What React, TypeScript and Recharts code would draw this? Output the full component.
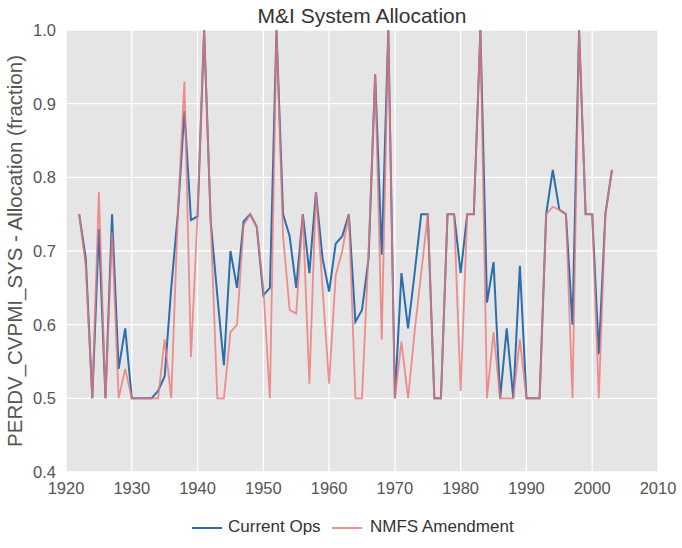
import React from 'react';
import { LineChart, Line, XAxis, YAxis, CartesianGrid, Label } from 'recharts';

const years = [
  1922, 1923, 1924, 1925, 1926, 1927, 1928, 1929, 1930, 1931,
  1932, 1933, 1934, 1935, 1936, 1937, 1938, 1939, 1940, 1941,
  1942, 1943, 1944, 1945, 1946, 1947, 1948, 1949, 1950, 1951,
  1952, 1953, 1954, 1955, 1956, 1957, 1958, 1959, 1960, 1961,
  1962, 1963, 1964, 1965, 1966, 1967, 1968, 1969, 1970, 1971,
  1972, 1973, 1974, 1975, 1976, 1977, 1978, 1979, 1980, 1981,
  1982, 1983, 1984, 1985, 1986, 1987, 1988, 1989, 1990, 1991,
  1992, 1993, 1994, 1995, 1996, 1997, 1998, 1999, 2000, 2001,
  2002, 2003,
];

const currentOps = [
  0.75, 0.69, 0.5, 0.73, 0.5, 0.75, 0.54, 0.595, 0.5, 0.5,
  0.5, 0.5, 0.51, 0.53, 0.65, 0.75, 0.89, 0.742, 0.747, 1.0,
  0.74, 0.64, 0.545, 0.7, 0.65, 0.74, 0.75, 0.733, 0.64, 0.65,
  1.0, 0.75, 0.72, 0.65, 0.75, 0.67, 0.78, 0.69, 0.645, 0.71,
  0.72, 0.75, 0.604, 0.62, 0.69, 0.94, 0.695, 1.0, 0.5, 0.67,
  0.595, 0.67, 0.75, 0.75, 0.5, 0.5, 0.75, 0.75, 0.67, 0.75,
  0.75, 1.0, 0.63, 0.685, 0.5, 0.595, 0.5, 0.68, 0.5, 0.5,
  0.5, 0.75, 0.81, 0.756, 0.75, 0.6, 1.0, 0.75, 0.75, 0.56,
  0.75, 0.81,
];

const nmfsAmendment = [
  0.75, 0.68, 0.5, 0.78, 0.5, 0.725, 0.5, 0.54, 0.5, 0.5,
  0.5, 0.5, 0.5, 0.58, 0.5, 0.75, 0.93, 0.556, 0.75, 1.0,
  0.74, 0.5, 0.5, 0.59, 0.6, 0.735, 0.75, 0.733, 0.65, 0.5,
  1.0, 0.72, 0.62, 0.615, 0.75, 0.52, 0.78, 0.65, 0.52, 0.667,
  0.7, 0.75, 0.5, 0.5, 0.7, 0.94, 0.58, 1.0, 0.5, 0.577,
  0.5, 0.59, 0.67, 0.75, 0.5, 0.5, 0.75, 0.75, 0.51, 0.75,
  0.75, 1.0, 0.5, 0.59, 0.5, 0.5, 0.5, 0.58, 0.5, 0.5,
  0.5, 0.75, 0.76, 0.756, 0.75, 0.5, 1.0, 0.75, 0.75, 0.5,
  0.75, 0.81,
];

const xTicks = [1920, 1930, 1940, 1950, 1960, 1970, 1980, 1990, 2000, 2010];
const yTicks = [0.4, 0.5, 0.6, 0.7, 0.8, 0.9, 1.0];

const data = years.map((year, i) => ({
  year,
  current: currentOps[i],
  nmfs: nmfsAmendment[i],
}));

const FONT = '"Liberation Sans", Arial, Helvetica, sans-serif';
const BLUE = '#2a6fad';
const RED = '#f07476';

export default function App() {
  return (
    <div style={{ position: 'absolute', left: 0, top: 0, width: 682, height: 548, background: '#fff', fontFamily: FONT }}>
      <div
        style={{
          position: 'absolute',
          left: 66,
          width: 592,
          top: 4,
          textAlign: 'center',
          fontSize: 21,
          color: '#333',
        }}
      >
        M&amp;I System Allocation
      </div>
      <LineChart
        width={682}
        height={548}
        data={data}
        margin={{ top: 30, right: 24, bottom: 46, left: 16 }}
      >
        <CartesianGrid fill="#e5e5e5" stroke="#ffffff" strokeWidth={1.3} />
        <XAxis
          dataKey="year"
          type="number"
          domain={[1920, 2010]}
          ticks={xTicks}
          axisLine={false}
          tickLine={false}
          tickMargin={4}
          height={30}
          tick={{ fill: '#555', fontSize: 16.5, fontFamily: FONT }}
          allowDataOverflow
        />
        <YAxis
          type="number"
          domain={[0.4, 1.0]}
          ticks={yTicks}
          axisLine={false}
          tickLine={false}
          tickMargin={4}
          width={50}
          tickFormatter={(v: number) => v.toFixed(1)}
          tick={{ fill: '#555', fontSize: 16.5, fontFamily: FONT }}
          allowDataOverflow
        >
          <Label
            value="PERDV_CVPMI_SYS - Allocation (fraction)"
            angle={-90}
            position="insideLeft"
            offset={-1}
            style={{ textAnchor: 'middle', fill: '#555', fontSize: 20.5, fontFamily: FONT }}
          />
        </YAxis>
        <Line
          type="linear"
          dataKey="current"
          stroke={BLUE}
          strokeWidth={2}
          dot={false}
          isAnimationActive={false}
        />
        <Line
          type="linear"
          dataKey="nmfs"
          stroke={RED}
          strokeOpacity={0.8}
          strokeWidth={1.8}
          dot={false}
          isAnimationActive={false}
        />
      </LineChart>
      <div style={{ position: 'absolute', left: 192, top: 527, width: 30, height: 2, background: BLUE }} />
      <div style={{ position: 'absolute', left: 228, top: 517, fontSize: 17, color: '#333', whiteSpace: 'nowrap' }}>
        Current Ops
      </div>
      <div style={{ position: 'absolute', left: 332, top: 527, width: 30, height: 2, background: RED, opacity: 0.8 }} />
      <div style={{ position: 'absolute', left: 370, top: 517, fontSize: 17, color: '#333', whiteSpace: 'nowrap' }}>
        NMFS Amendment
      </div>
    </div>
  );
}
